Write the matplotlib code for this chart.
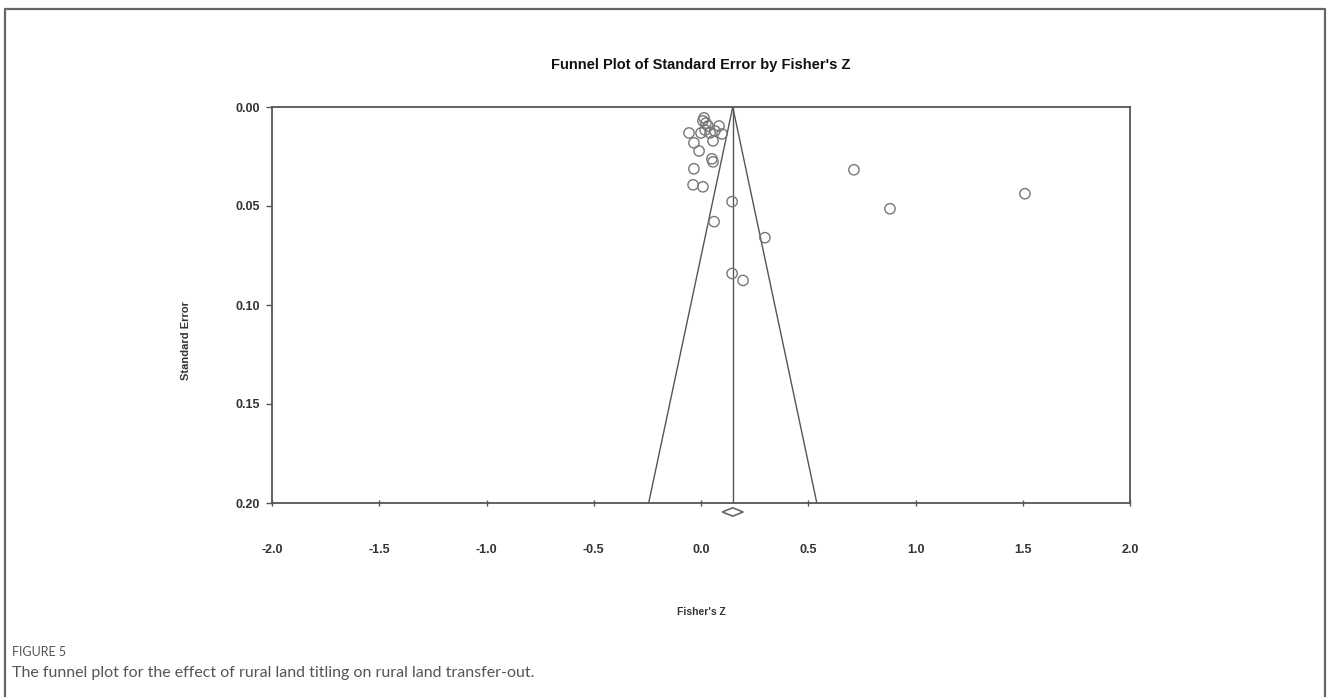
import matplotlib
matplotlib.use("Agg")
import matplotlib.pyplot as plt
from matplotlib.patches import Polygon
from matplotlib.lines import Line2D
import matplotlib.transforms as mtransforms

# Study effects (Fisher's Z) and their standard errors
fisher_z = [0.014, 0.009, 0.023, 0.033, 0.084, -0.056, 0.000, 0.019, 0.042,
            0.065, 0.098, 0.056, -0.033, -0.009, 0.051, 0.056, -0.033, -0.037,
            0.009, 0.145, 0.061, 0.298, 0.145, 0.196, 0.713, 0.881, 1.510]
std_err = [0.0055, 0.0070, 0.0081, 0.0096, 0.0096, 0.0131, 0.0131, 0.0116, 0.0131,
           0.0121, 0.0136, 0.0171, 0.0181, 0.0222, 0.0262, 0.0277, 0.0312, 0.0393,
           0.0403, 0.0478, 0.0579, 0.0660, 0.0841, 0.0876, 0.0317, 0.0514, 0.0438]

pooled_z = 0.148
pooled_ci = (0.099, 0.197)
se_max = 0.20

x_ticks = [-2.0, -1.5, -1.0, -0.5, 0.0, 0.5, 1.0, 1.5, 2.0]
y_ticks = [0.00, 0.05, 0.10, 0.15, 0.20]

axis_col = "#555555"
text_col = "#333333"
chart_font = "Liberation Sans"

fig = plt.figure(figsize=(13.28, 6.97), dpi=100)
ax = fig.add_axes([272 / 1328, 1 - 503 / 697, 858 / 1328, 396 / 697])

# funnel: pseudo 95% limits around the pooled estimate
ax.plot([pooled_z - 1.96 * se_max, pooled_z, pooled_z + 1.96 * se_max],
        [se_max, 0, se_max], color=axis_col, lw=1.0, zorder=2)
ax.plot([pooled_z, pooled_z], [0, se_max], color=axis_col, lw=1.0, zorder=2)

ax.scatter(fisher_z, std_err, s=55, facecolors="none", edgecolors="#777777",
           linewidths=1.0, zorder=3)

ax.set_xlim(-2.0, 2.0)
ax.set_ylim(se_max, 0.0)
ax.set_xticks(x_ticks)
ax.set_yticks(y_ticks)
ax.set_xticklabels([f"{v:.1f}" for v in x_ticks])
ax.set_yticklabels([f"{v:.2f}" for v in y_ticks])

for sp in ax.spines.values():
    sp.set_color(axis_col)
    sp.set_linewidth(1.3)

ax.tick_params(axis="x", direction="inout", length=5, width=1, color=axis_col,
               pad=27, labelsize=9, labelcolor=text_col)
ax.tick_params(axis="y", direction="out", length=4, width=1, color=axis_col,
               pad=5, labelsize=9, labelcolor=text_col)
for lab in ax.get_xticklabels() + ax.get_yticklabels():
    lab.set_fontfamily(chart_font)
    lab.set_fontweight("bold")

# pooled estimate diamond beneath the axis
trans = mtransforms.blended_transform_factory(ax.transData, ax.transAxes)
yc, hh = -0.0227, 0.0105
diamond = Polygon([(pooled_ci[0], yc), (pooled_z, yc + hh),
                   (pooled_ci[1], yc), (pooled_z, yc - hh)],
                  closed=True, facecolor="white", edgecolor="#666666",
                  lw=1.2, transform=trans, clip_on=False, zorder=4)
ax.add_patch(diamond)

ax.set_xlabel("Fisher's Z", fontfamily=chart_font, fontweight="bold",
              fontsize=7.5, color=text_col, va="center")
ax.xaxis.set_label_coords(0.5, -(612 - 503) / 396)
ax.set_ylabel("Standard Error", fontfamily=chart_font, fontweight="bold",
              fontsize=8, color=text_col, va="center")
ax.yaxis.set_label_coords((186 - 272) / 858, (503 - 340) / 396)

fig.text(701 / 1328, 1 - 65 / 697, "Funnel Plot of Standard Error by Fisher's Z",
         ha="center", va="center", fontfamily=chart_font, fontweight="bold",
         fontsize=10.5, color="#111111")

# outer frame of the figure panel
frame_x = [5 / 1328, 5 / 1328, 1325 / 1328, 1325 / 1328]
frame_y = [0.0, 1 - 9 / 697, 1 - 9 / 697, 0.0]
fig.add_artist(Line2D(frame_x, frame_y, transform=fig.transFigure,
                      color="#666666", lw=1.6))

fig.text(12 / 1328, 1 - 652 / 697, "FIGURE 5", ha="left", va="center",
         fontfamily="Lato", fontsize=9, color="#555555")
fig.text(12 / 1328, 1 - 673 / 697,
         "The funnel plot for the effect of rural land titling on rural land transfer-out.",
         ha="left", va="center", fontfamily="Lato", fontsize=11.5, color="#555555")

fig.savefig("out.png", dpi=100)
